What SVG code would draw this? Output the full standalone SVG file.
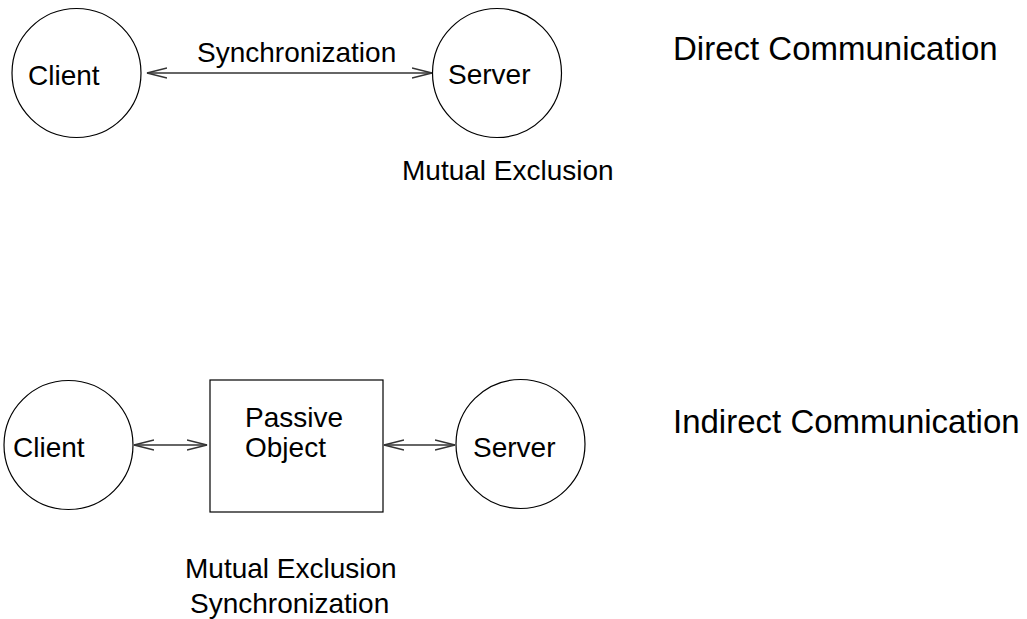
<svg xmlns="http://www.w3.org/2000/svg" width="1027" height="619" viewBox="0 0 1027 619">
<style>
.n{fill:#fff;stroke:#000;stroke-width:1.2}
.t{font-family:"Liberation Sans",Arial,sans-serif;font-size:28px;fill:#000}
.h{font-size:33px}
.c{fill:none;stroke:#333;stroke-width:1.3}
</style>
<defs>
<marker id="ah" markerUnits="userSpaceOnUse" markerWidth="22" markerHeight="12" refX="20" refY="6" orient="auto-start-reverse" viewBox="0 0 22 12">
<path d="M0,1 L20,6 L0,11" fill="none" stroke="#333" stroke-width="1.3"/>
</marker>
</defs>
<rect width="1027" height="619" fill="#fff"/>
<g id="connectors">
<line class="c" x1="147" y1="73" x2="432" y2="73" marker-start="url(#ah)" marker-end="url(#ah)"/>
<line class="c" x1="134" y1="445" x2="207" y2="445" marker-start="url(#ah)" marker-end="url(#ah)"/>
<line class="c" x1="384" y1="445" x2="455" y2="445" marker-start="url(#ah)" marker-end="url(#ah)"/>
</g>
<g id="client1"><circle class="n" cx="76.5" cy="73" r="64.5"/><text class="t" x="28" y="85">Client</text></g>
<g id="server1"><circle class="n" cx="497" cy="73" r="64.5"/><text class="t" x="448" y="84">Server</text></g>
<g id="client2"><circle class="n" cx="68.5" cy="445" r="64.5"/><text class="t" x="13" y="457">Client</text></g>
<g id="passive"><rect class="n" x="210" y="380" width="173" height="132"/><text class="t" x="245" y="427">Passive</text><text class="t" x="245" y="457">Object</text></g>
<g id="server2"><circle class="n" cx="520.5" cy="444" r="64.5"/><text class="t" x="473" y="457">Server</text></g>
<g id="labels">
<text class="t" x="197" y="62">Synchronization</text>
<text class="t" x="402" y="180">Mutual Exclusion</text>
<text class="t h" x="673" y="60">Direct Communication</text>
<text class="t h" x="673" y="433">Indirect Communication</text>
<text class="t" x="185" y="578">Mutual Exclusion</text>
<text class="t" x="190" y="613">Synchronization</text>
</g>
</svg>
